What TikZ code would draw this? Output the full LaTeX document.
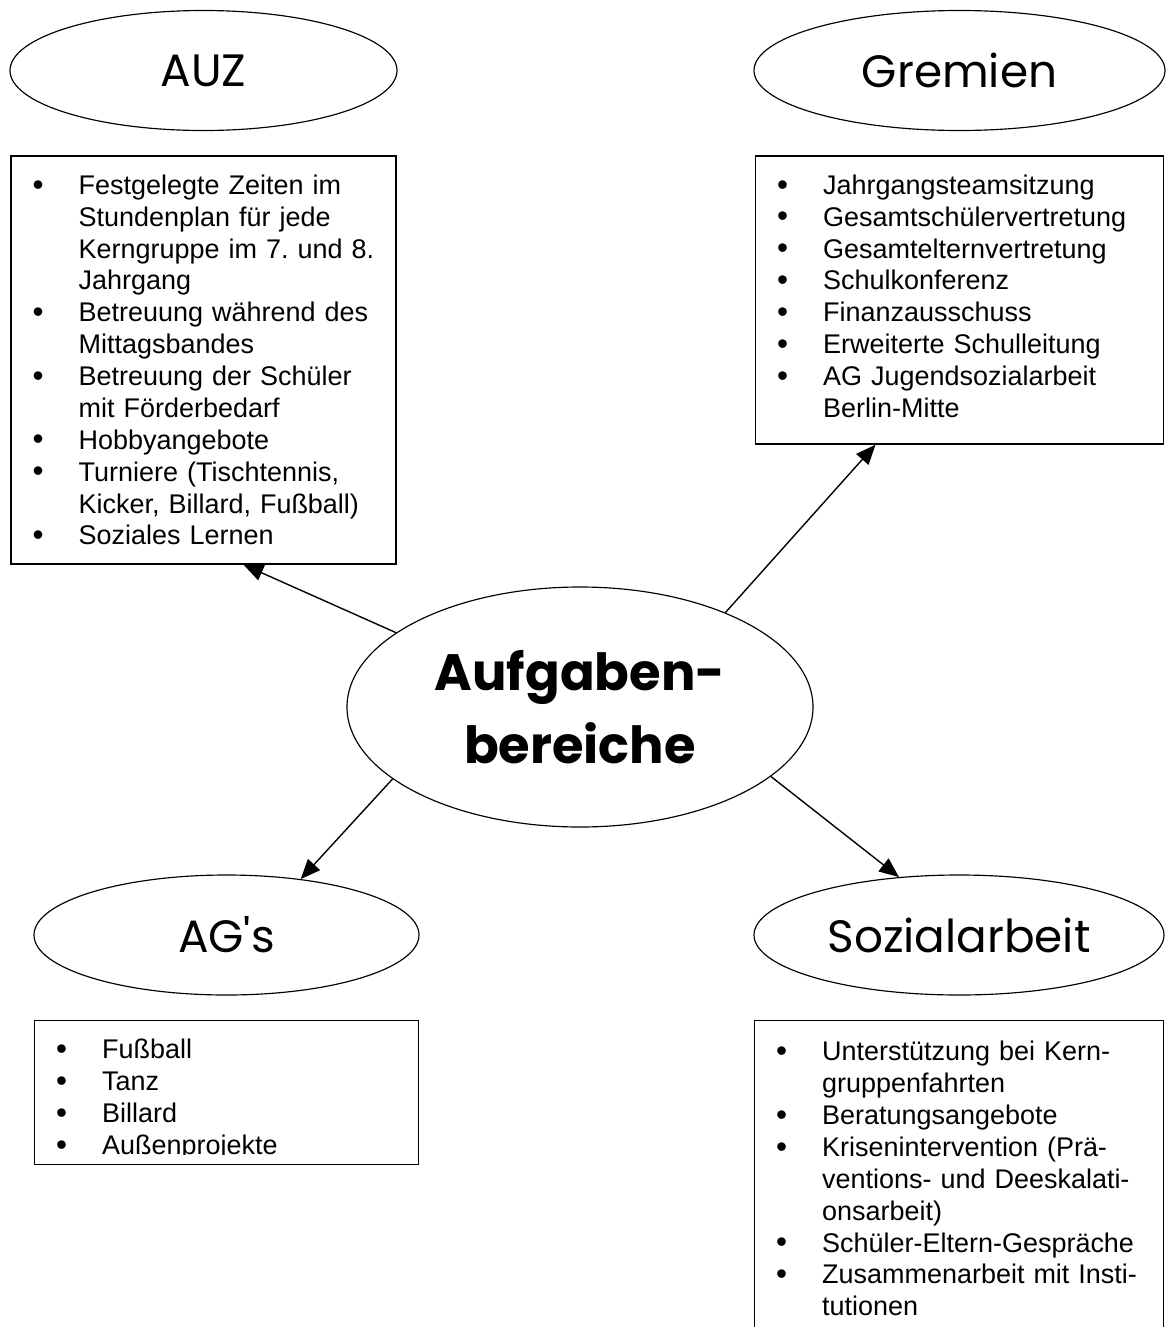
\documentclass[tikz,border=0pt]{standalone}
\usepackage{fontspec}
\setmainfont{Liberation Sans}
\newfontfamily\titlefont{Poppins}
\usetikzlibrary{arrows.meta, positioning, shapes.geometric}

\newlength\unitpx \setlength\unitpx{0.43pt}
\newlength\bulind \setlength\bulind{22\unitpx}
\newlength\listind \setlength\listind{68\unitpx}
\newcommand{\bitem}[1]{\par\noindent\hangindent=\listind\hangafter=1\hspace*{\bulind}\hbox to 46\unitpx{\raisebox{-0.3pt}{\fontsize{13.5pt}{13.7pt}\selectfont\textbullet}\hfil}#1}

\begin{document}
\begin{tikzpicture}[
  x=0.43pt, y=-0.43pt,
  every node/.style={inner sep=0pt},
  topic/.style={ellipse, draw, line width=0.5pt, minimum height=120\unitpx, font=\titlefont\fontsize{19.5pt}{23pt}\selectfont},
  hub/.style={ellipse, draw, line width=0.5pt, align=center, font=\titlefont\bfseries\fontsize{22pt}{31.4pt}\selectfont},
  listbox/.style={rectangle, draw, line width=0.7pt},
  listtext/.style={anchor=north west, align=left, text width=390\unitpx, font=\fontsize{11.6pt}{13.7pt}\selectfont\frenchspacing},
  arr/.style={-{Triangle[length=8.5pt,width=7pt]}, line width=0.6pt}
]
\clip (0,0) rectangle (1167,1327);

% Ellipses
\node[hub, minimum width=466\unitpx, minimum height=240\unitpx] (mid) at (580,707) {Aufgaben-\\bereiche};
\node[topic, minimum width=387\unitpx] (auz)    at (203.5,70.5) {AUZ};
\node[topic, minimum width=411\unitpx] (gremien) at (959.5,70.5) {Gremien};
\node[topic, minimum width=385\unitpx] (ags)    at (226.5,935) {AG's};
\node[topic, minimum width=410\unitpx] (sozial) at (959,935) {Sozialarbeit};

% Boxes
\node[listbox, below=24\unitpx of auz, minimum width=385\unitpx, minimum height=408\unitpx] (auzbox) {};
\node[listbox, below=24\unitpx of gremien, minimum width=408\unitpx, minimum height=288\unitpx] (grembox) {};
\node[listbox, below=24\unitpx of ags, minimum width=384\unitpx, minimum height=144\unitpx] (agsbox) {};
\node[listbox, below=24\unitpx of sozial, minimum width=409\unitpx, minimum height=340\unitpx] (sozialbox) {};

% Lists
\node[listtext] (auzlist) at ([yshift=-7\unitpx]auzbox.north west) {%
  \bitem{Festgelegte Zeiten im\newline Stundenplan für jede\newline Kerngruppe im 7. und 8.\newline Jahrgang}
  \bitem{Betreuung während des\newline Mittagsbandes}
  \bitem{Betreuung der Schüler\newline mit Förderbedarf}
  \bitem{Hobbyangebote}
  \bitem{Turniere (Tischtennis,\newline Kicker, Billard, Fußball)}
  \bitem{Soziales Lernen}\par};
\node[listtext] (gremlist) at ([yshift=-7\unitpx]grembox.north west) {%
  \bitem{Jahrgangsteamsitzung}
  \bitem{Gesamtschülervertretung}
  \bitem{Gesamtelternvertretung}
  \bitem{Schulkonferenz}
  \bitem{Finanzausschuss}
  \bitem{Erweiterte Schulleitung}
  \bitem{AG Jugendsozialarbeit\newline Berlin-Mitte}\par};
\begin{scope}
  \clip (agsbox.north west) rectangle ([yshift=11\unitpx]agsbox.south east);
  \node[listtext] (agslist) at ([yshift=-7\unitpx]agsbox.north west) {%
    \bitem{Fußball}
    \bitem{Tanz}
    \bitem{Billard}
    \bitem{Außenprojekte}\par};
\end{scope}
\node[listtext] (soziallist) at ([yshift=-9\unitpx]sozialbox.north west) {%
  \bitem{Unterstützung bei Kern-\newline gruppenfahrten}
  \bitem{Beratungsangebote}
  \bitem{Krisenintervention (Prä-\newline ventions- und Deeskalati-\newline onsarbeit)}
  \bitem{Schüler-Eltern-Gespräche}
  \bitem{Zusammenarbeit mit Insti-\newline tutionen}\par};

% Arrows
\draw[arr] (mid.158) -- ([xshift=40\unitpx]auzbox.south);
\draw[arr] (mid.33) -- ([xshift=-84\unitpx]grembox.south);
\draw[arr] (mid.201) -- (ags.37);
\draw[arr] (mid.-20) -- (sozial.136);

\end{tikzpicture}
\end{document}
